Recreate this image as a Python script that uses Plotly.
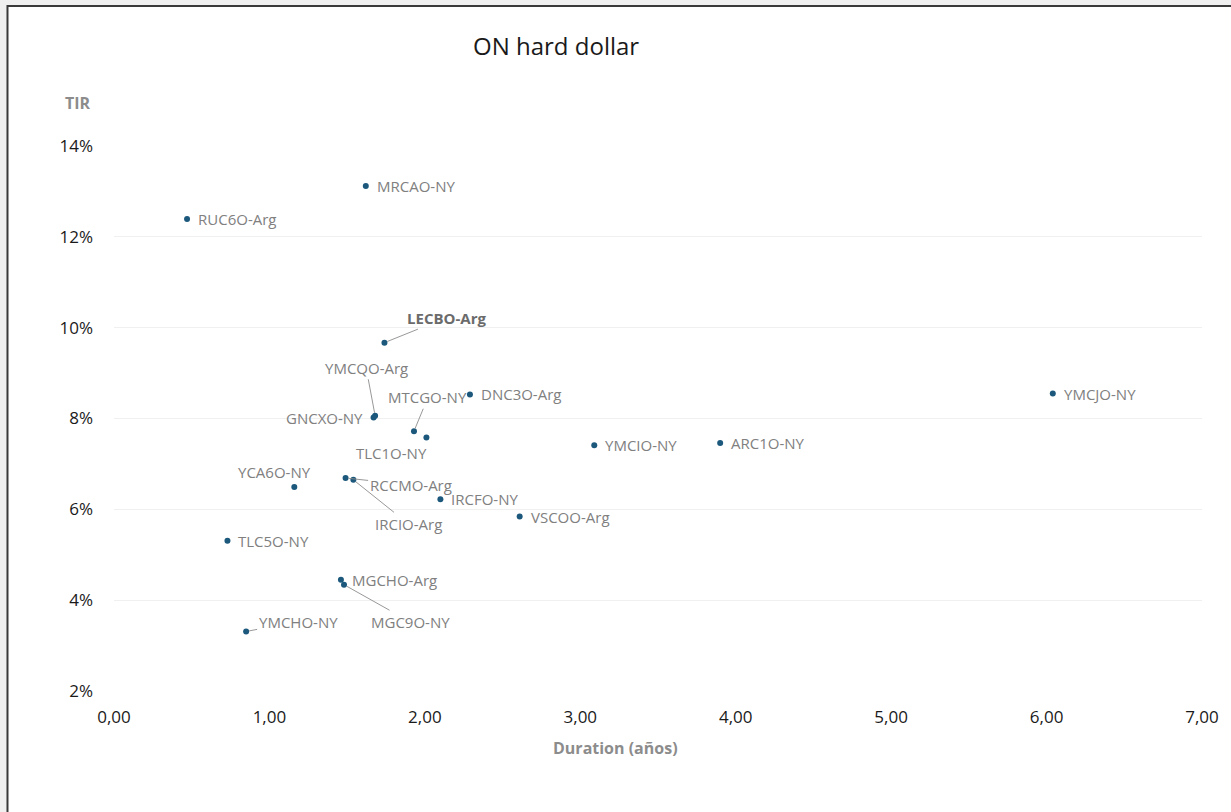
import plotly.graph_objects as go

# ON hard dollar: duration (años) vs TIR (%)
BONOS = [
    "RUC6O-Arg", "MRCAO-NY", "LECBO-Arg", "YMCQO-Arg", "GNCXO-NY",
    "MTCGO-NY", "TLC1O-NY", "DNC3O-Arg", "YCA6O-NY", "RCCMO-Arg",
    "IRCIO-Arg", "IRCFO-NY", "VSCOO-Arg", "TLC5O-NY", "MGCHO-Arg",
    "MGC9O-NY", "YMCHO-NY", "YMCIO-NY", "ARC1O-NY", "YMCJO-NY",
]
DURATION = [
    0.47, 1.62, 1.74, 1.68, 1.67,
    1.93, 2.01, 2.29, 1.16, 1.49,
    1.54, 2.10, 2.61, 0.73, 1.46,
    1.48, 0.85, 3.09, 3.90, 6.04,
]
TIR = [
    12.39, 13.12, 9.67, 8.06, 8.02,
    7.72, 7.58, 8.53, 6.49, 6.69,
    6.65, 6.22, 5.84, 5.31, 4.45,
    4.34, 3.31, 7.41, 7.46, 8.55,
]

X_TICKS = [0, 1, 2, 3, 4, 5, 6, 7]
X_TICK_TEXT = ["0,00", "1,00", "2,00", "3,00", "4,00", "5,00", "6,00", "7,00"]
Y_TICKS = [2, 4, 6, 8, 10, 12, 14]
Y_TICK_TEXT = ["2%", "4%", "6%", "8%", "10%", "12%", "14%"]

COL = {
    "punto": "#1b587c",
    "etiqueta": "#808080",
    "destacado": "#6b6b6b",
    "grid": "#f0f0f0",
    "texto": "#1a1a1a",
    "fondo": "#f0f0f0",
    "marco": "#3a3a3a",
}
FUENTE = "Open Sans"

# posición de etiquetas en px: "r" derecha, "l" izquierda,
# ("c", dx, dy) centro desplazado, ("a", dx, dy) con línea guía
ETIQUETAS = {
    "LECBO-Arg": ("a", 62, -25),
    "YMCQO-Arg": ("a", -9, -48),
    "GNCXO-NY": ("l",),
    "MTCGO-NY": ("a", 14, -34),
    "TLC1O-NY": ("c", -35, 15),
    "YCA6O-NY": ("c", -20, -15),
    "RCCMO-Arg": ("a", 65, 7),
    "IRCIO-Arg": ("a", 55, 44),
    "MGC9O-NY": ("a", 66, 37),
    "YMCHO-NY": ("a", 52, -10),
}

L, R, T, B = 114, 24, 146, 121
W, H = 1231, 812
PW, PH = W - L - R, H - T - B


def px_x(px):
    return (px - L) / PW


def px_y(py):
    return (H - B - py) / PH


fig = go.Figure()
fig.add_trace(
    go.Scatter(
        x=DURATION,
        y=TIR,
        mode="markers",
        text=BONOS,
        marker=dict(size=6, color=COL["punto"]),
        hovertemplate="%{text}<br>Duration: %{x:.2f}<br>TIR: %{y:.2f}%<extra></extra>",
        showlegend=False,
    )
)

anns = []
for name, x, y in zip(BONOS, DURATION, TIR):
    pos = ETIQUETAS.get(name, ("r",))
    bold = name == "LECBO-Arg"
    font = dict(
        family=FUENTE,
        size=15,
        color=COL["destacado"] if bold else COL["etiqueta"],
        weight="bold" if bold else "normal",
    )
    base = dict(x=x, y=y, xref="x", yref="y", text=name, font=font)
    if pos[0] == "r":
        anns.append(dict(base, showarrow=False, xanchor="left", xshift=9))
    elif pos[0] == "l":
        anns.append(dict(base, showarrow=False, xanchor="right", xshift=-9))
    elif pos[0] == "c":
        anns.append(dict(base, showarrow=False, xshift=pos[1], yshift=-pos[2]))
    else:
        anns.append(
            dict(
                base,
                showarrow=True,
                ax=pos[1],
                ay=pos[2],
                arrowhead=0,
                arrowwidth=0.9,
                arrowcolor="#8c8c8c",
                standoff=3,
            )
        )


def texto_paper(px, py, text, size, color):
    return dict(
        x=px_x(px), y=px_y(py), xref="paper", yref="paper", showarrow=False,
        xanchor="center", yanchor="middle", text=text,
        font=dict(family=FUENTE, size=size, color=color),
    )


anns += [
    texto_paper(558, 45, "ON hard dollar", 24, COL["texto"]),
    texto_paper(78, 103, "<b>TIR</b>", 16, "#8c8c8c"),
    texto_paper(618, 748, "<b>Duration (años)</b>", 16, "#8c8c8c"),
]

fig.update_layout(
    width=W,
    height=H,
    margin=dict(l=L, r=R, t=T, b=B, pad=0),
    paper_bgcolor=COL["fondo"],
    plot_bgcolor="white",
    font=dict(family=FUENTE, color=COL["texto"], size=17),
    annotations=anns,
    shapes=[
        dict(
            type="rect", xref="paper", yref="paper", layer="below",
            x0=px_x(7), x1=px_x(W + 20), y0=px_y(H + 20), y1=px_y(6),
            fillcolor="white", line=dict(color=COL["marco"], width=2),
        )
    ],
    xaxis=dict(
        range=[0, 7],
        tickvals=X_TICKS,
        ticktext=X_TICK_TEXT,
        showgrid=False,
        zeroline=False,
        showline=False,
        ticklabelstandoff=14,
        tickfont=dict(size=17, color=COL["texto"]),
    ),
    yaxis=dict(
        range=[2, 14],
        tickvals=Y_TICKS,
        ticktext=Y_TICK_TEXT,
        showgrid=True,
        gridcolor=COL["grid"],
        gridwidth=1,
        zeroline=False,
        showline=False,
        ticklabelstandoff=20,
        tickfont=dict(size=17, color=COL["texto"]),
    ),
)

fig.write_html(
    "out.html",
    config={"displayModeBar": False},
    post_script="document.body.style.margin = '0';",
)
